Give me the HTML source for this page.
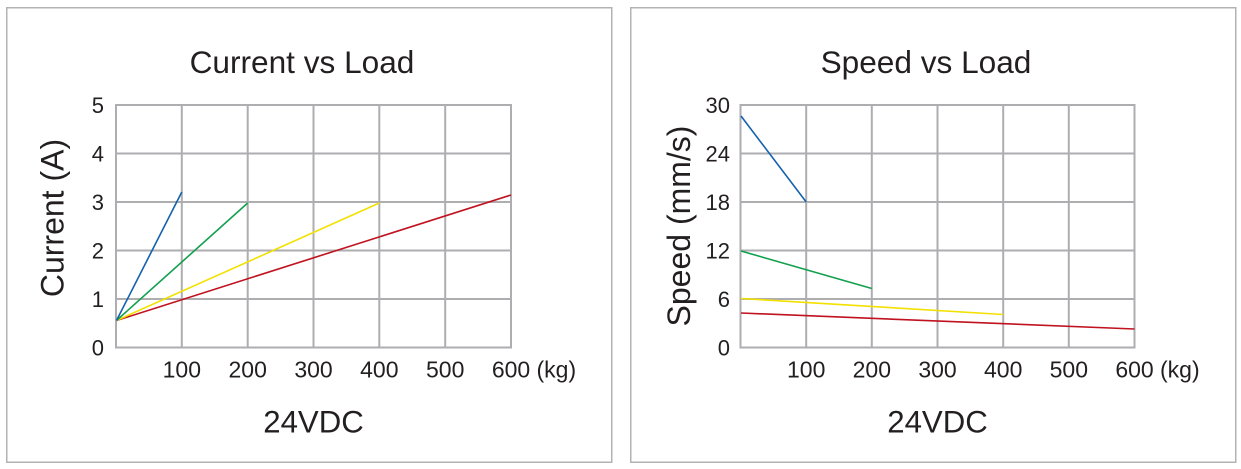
<!DOCTYPE html>
<html><head><meta charset="utf-8"><style>
html,body{margin:0;padding:0;background:#fff;}
svg{display:block;}
text{font-family:"Liberation Sans",Arial,sans-serif;fill:#231f20;}
</style></head><body>
<svg width="1241" height="469" viewBox="0 0 1241 469" xmlns="http://www.w3.org/2000/svg">
<rect x="0" y="0" width="1241" height="469" fill="#fff"/>
<!-- panels -->
<rect x="6.75" y="7.75" width="605" height="454.5" fill="#fff" stroke="#b3b3b3" stroke-width="1.5"/>
<rect x="630.75" y="7.75" width="605" height="454.5" fill="#fff" stroke="#b3b3b3" stroke-width="1.5"/>

<!-- LEFT PLOT grid -->
<g stroke="#aeaeb0" stroke-width="2" fill="none">
<line x1="116" y1="105" x2="511" y2="105"/>
<line x1="116" y1="153.5" x2="511" y2="153.5"/>
<line x1="116" y1="202" x2="511" y2="202"/>
<line x1="116" y1="250.5" x2="511" y2="250.5"/>
<line x1="116" y1="299" x2="511" y2="299"/>
<line x1="116" y1="347.5" x2="511" y2="347.5"/>
<line x1="116" y1="104" x2="116" y2="348.5"/>
<line x1="181.8" y1="104" x2="181.8" y2="348.5"/>
<line x1="247.7" y1="104" x2="247.7" y2="348.5"/>
<line x1="313.5" y1="104" x2="313.5" y2="348.5"/>
<line x1="379.3" y1="104" x2="379.3" y2="348.5"/>
<line x1="445.2" y1="104" x2="445.2" y2="348.5"/>
<line x1="511" y1="104" x2="511" y2="348.5"/>
</g>
<!-- LEFT series -->
<g stroke-width="1.6" fill="none">
<line x1="116.5" y1="320.5" x2="511" y2="195" stroke="#c0121f"/>
<line x1="116.5" y1="320.5" x2="379.3" y2="203" stroke="#f2e100"/>
<line x1="116.5" y1="320.5" x2="247.7" y2="203" stroke="#12a04e"/>
<line x1="116.5" y1="320.5" x2="181.8" y2="192" stroke="#1461ae"/>
</g>
<!-- LEFT labels -->
<text x="302" y="73" font-size="31.6" text-anchor="middle">Current vs Load</text>
<g font-size="22" text-anchor="end">
<text x="104" y="113">5</text>
<text x="104" y="161.5">4</text>
<text x="104" y="210">3</text>
<text x="104" y="258.5">2</text>
<text x="104" y="307">1</text>
<text x="104" y="355.5">0</text>
</g>
<g font-size="23" text-anchor="middle">
<text x="181.8" y="377.5">100</text>
<text x="247.7" y="377.5">200</text>
<text x="313.5" y="377.5">300</text>
<text x="379.3" y="377.5">400</text>
<text x="445.2" y="377.5">500</text>
<text x="511" y="377.5">600</text>
</g>
<text x="536.5" y="377.5" font-size="23">(kg)</text>
<text x="313.5" y="432.3" font-size="31.2" text-anchor="middle">24VDC</text>
<text transform="translate(63.5,218) rotate(-90)" font-size="32" text-anchor="middle">Current (A)</text>

<!-- RIGHT PLOT grid -->
<g stroke="#aeaeb0" stroke-width="2" fill="none">
<line x1="740.5" y1="105" x2="1134.5" y2="105"/>
<line x1="740.5" y1="153.5" x2="1134.5" y2="153.5"/>
<line x1="740.5" y1="202" x2="1134.5" y2="202"/>
<line x1="740.5" y1="250.5" x2="1134.5" y2="250.5"/>
<line x1="740.5" y1="299" x2="1134.5" y2="299"/>
<line x1="740.5" y1="347.5" x2="1134.5" y2="347.5"/>
<line x1="740.5" y1="104" x2="740.5" y2="348.5"/>
<line x1="806.2" y1="104" x2="806.2" y2="348.5"/>
<line x1="871.8" y1="104" x2="871.8" y2="348.5"/>
<line x1="937.5" y1="104" x2="937.5" y2="348.5"/>
<line x1="1003.2" y1="104" x2="1003.2" y2="348.5"/>
<line x1="1068.8" y1="104" x2="1068.8" y2="348.5"/>
<line x1="1134.5" y1="104" x2="1134.5" y2="348.5"/>
</g>
<!-- RIGHT series -->
<g stroke-width="1.6" fill="none">
<line x1="741" y1="313" x2="1134.5" y2="329" stroke="#c0121f"/>
<line x1="741" y1="298.5" x2="1003.2" y2="314.5" stroke="#f2e100"/>
<line x1="741" y1="251" x2="871.8" y2="288.5" stroke="#12a04e"/>
<line x1="741" y1="116" x2="806.2" y2="202" stroke="#1461ae"/>
</g>
<!-- RIGHT labels -->
<text x="926" y="73" font-size="31.6" text-anchor="middle">Speed vs Load</text>
<g font-size="22" text-anchor="end">
<text x="730" y="113">30</text>
<text x="730" y="161.5">24</text>
<text x="730" y="210">18</text>
<text x="730" y="258.5">12</text>
<text x="730" y="307">6</text>
<text x="730" y="355.5">0</text>
</g>
<g font-size="23" text-anchor="middle">
<text x="806.2" y="377.5">100</text>
<text x="871.8" y="377.5">200</text>
<text x="937.5" y="377.5">300</text>
<text x="1003.2" y="377.5">400</text>
<text x="1068.8" y="377.5">500</text>
<text x="1134.5" y="377.5">600</text>
</g>
<text x="1160" y="377.5" font-size="23">(kg)</text>
<text x="937.5" y="432.3" font-size="31.2" text-anchor="middle">24VDC</text>
<text transform="translate(690,226) rotate(-90)" font-size="32" text-anchor="middle">Speed (mm/s)</text>
</svg>
</body></html>
